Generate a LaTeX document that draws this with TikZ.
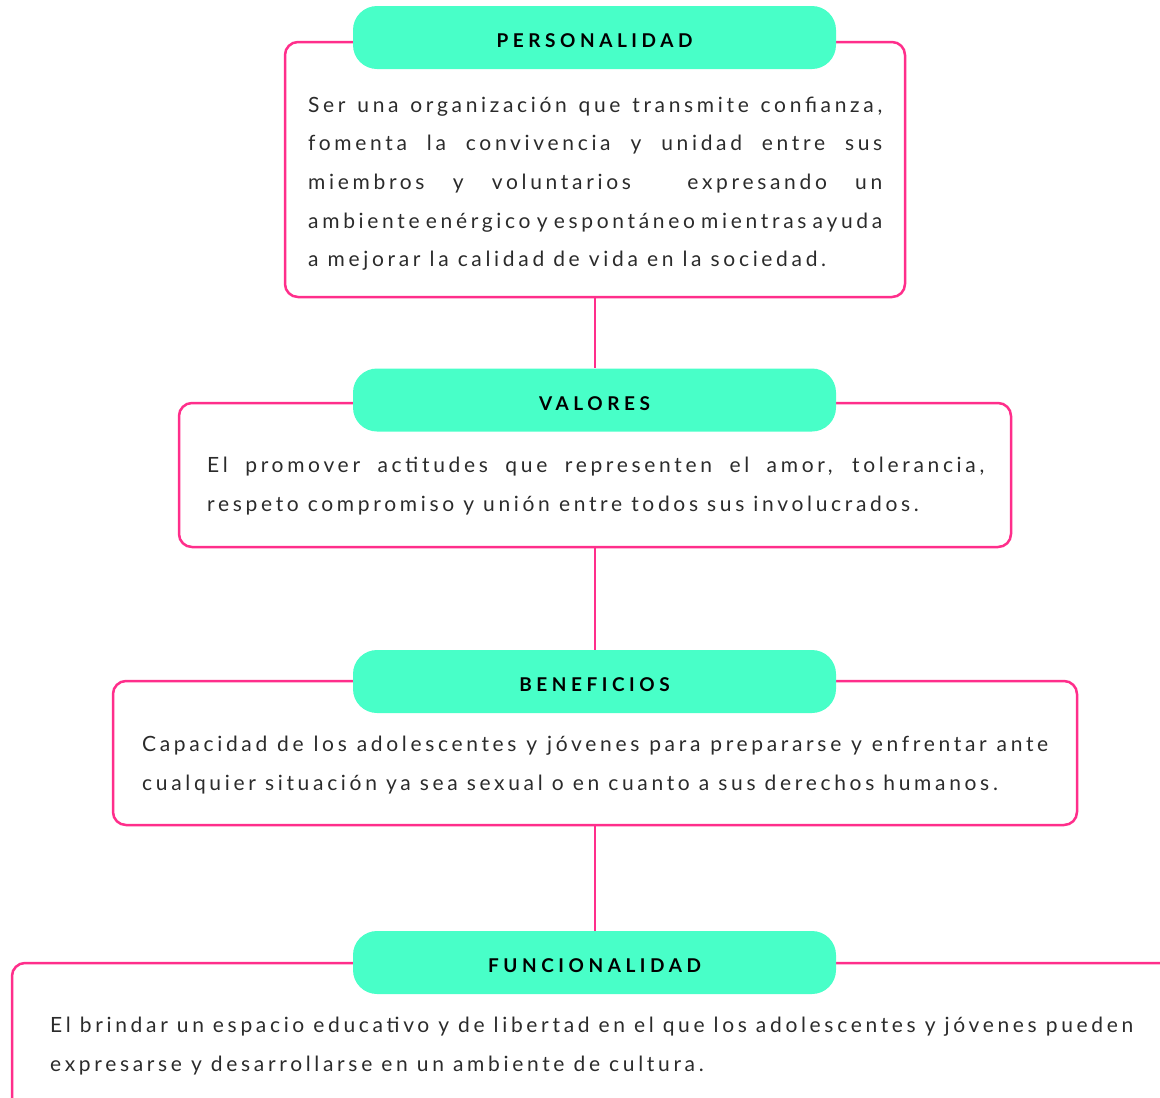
\documentclass[tikz,border=0pt]{standalone}
\usepackage{fontspec}
\setmainfont{Lato}[LetterSpace=17.5]
\newfontfamily\headfont{Lato}[LetterSpace=24]
\usepackage{tikz}
\usetikzlibrary{positioning}

\definecolor{rosa}{HTML}{FF2E8B}
\definecolor{menta}{HTML}{48FFC8}
\definecolor{tinta}{HTML}{2B2B2B}

\tikzset{
  head/.style={fill=menta, rounded corners=24pt, minimum width=483pt, minimum height=63pt,
    inner sep=0pt, text height=20.6pt, text depth=0pt,
    font=\headfont\bfseries\fontsize{19}{19}\selectfont, text=black},
  card/.style={draw=rosa, line width=2.5pt, rounded corners=13pt, inner sep=0pt},
  body/.style={anchor=base west, inner sep=0pt, align=justify, text=tinta,
    font=\fontsize{21}{38.7}\selectfont},
  link/.style={draw=rosa, line width=2.5pt}
}

\begin{document}
\hyphenpenalty=10000 \tolerance=9999
\begin{tikzpicture}[x=1pt, y=-1pt]
    \useasboundingbox (0,0) rectangle (1160,1098);
    \clip (0,0) rectangle (1160,1098);
    % cajas
    \node [card, minimum width=620pt, minimum height=255pt] (bPers) at (595,169.5) {};
    \node [card, minimum width=832pt, minimum height=144pt] (bVal)  at (595,475) {};
    \node [card, minimum width=964pt, minimum height=144pt] (bBen)  at (595,753) {};
    \node [card, minimum width=1166pt, minimum height=147pt] (bFun) at (595,1036.5) {};
    % titulos
    \node [head] (hPers) at (594.5,37.5)  {PERSONALIDAD};
    \node [head] (hVal)  at (594.5,400) {VALORES};
    \node [head] (hBen)  at (594.5,681.5) {BENEFICIOS};
    \node [head] (hFun)  at (594.5,962.5) {FUNCIONALIDAD};
    % lineas
    \draw [link] (bPers.south) -- (bPers.south |- hVal.north);
    \draw [link] (bVal.south) -- (bVal.south |- hBen.north);
    \draw [link] (bBen.south) -- (bBen.south |- hFun.north);
    % textos
    \node [body, text width=574pt] (tPers) at (308,112) {Ser una organización que transmite confianza,\linebreak
      fomenta la convivencia y unidad entre sus\linebreak
      miembros y voluntarios \ expresando un\linebreak
      ambiente enérgico y espontáneo mientras ayuda\linebreak
      a mejorar la calidad de vida en la sociedad.};
    \node [body, text width=777pt] (tVal) at (207,472.5) {El promover actitudes que representen el amor, tolerancia,\linebreak
      respeto compromiso y unión entre todos sus involucrados.};
    \node [body, text width=906pt] (tBen) at (142,751.5) {Capacidad de los adolescentes y jóvenes para prepararse y enfrentar ante\linebreak
      cualquier situación ya sea sexual o en cuanto a sus derechos humanos.};
    \node [body, text width=1083pt] (tFun) at (50,1032.5) {El brindar un espacio educativo y de libertad en el que los adolescentes y jóvenes pueden\linebreak
      expresarse y desarrollarse en un ambiente de cultura.};
\end{tikzpicture}
\end{document}
